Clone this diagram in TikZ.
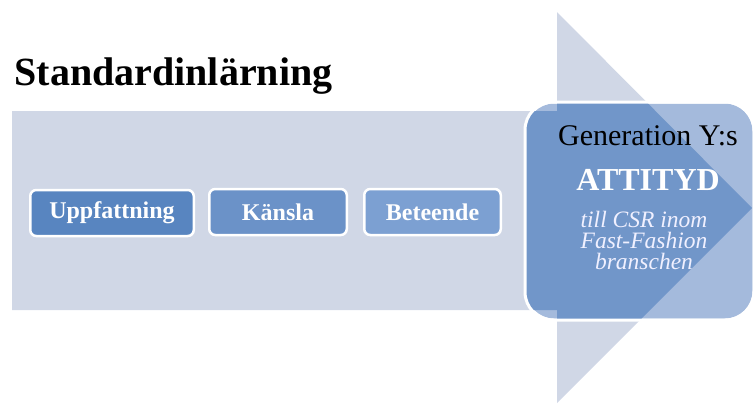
\documentclass[tikz,border=0pt]{standalone}
\usepackage{fontspec}
\setmainfont{Liberation Serif}
\definecolor{arrowgray}{RGB}{208,215,230}
\definecolor{genlight}{RGB}{164,186,220}
\definecolor{gendark}{RGB}{113,150,201}
\definecolor{uppblue}{RGB}{88,133,192}
\definecolor{kanblue}{RGB}{107,146,200}
\definecolor{betblue}{RGB}{124,160,210}
\begin{document}
\begin{tikzpicture}[x=1pt, y=-1pt,
  stepbox/.style={draw=white, line width=2.5pt, rounded corners=6pt,
    minimum width=#1, minimum height=46pt, inner sep=0pt,
    text=white, font=\fontsize{24}{28}\selectfont\bfseries},
  genbox/.style={line width=3pt, rounded corners=28pt,
    minimum width=226pt, minimum height=215pt, inner sep=0pt}]
\useasboundingbox (0,0) rectangle (756,405);
% big arrow
\fill[arrowgray] (12,111) -- (557,111) -- (557,12) -- (752,208)
  -- (557,403) -- (557,310) -- (12,310) -- cycle;
\node[anchor=base west, font=\fontsize{40}{44}\selectfont\bfseries] (title) at (11,85) {Standardinlärning};
% steps
\node[stepbox=163.5pt, fill=uppblue] (upp) at (112,213) {Uppfattning};
\node[stepbox=137.5pt, fill=kanblue] (kan) at (278,212) {Känsla};
\node[stepbox=136.5pt, fill=betblue] (bet) at (432.5,212) {Beteende};
% generation Y box
\node[genbox, fill=genlight] (gen) at (639.5,211) {};
\begin{scope}
\clip[rounded corners=28pt] (gen.north west) rectangle (gen.south east);
\fill[gendark] (12,111) -- (557,111) -- (557,12) -- (752,208)
  -- (557,403) -- (557,310) -- (12,310) -- cycle;
\end{scope}
\draw[white, line width=3pt, rounded corners=28pt] (gen.north west) rectangle (gen.south east);
\node[anchor=base, font=\fontsize{30}{34}\selectfont] (geny) at (648,145) {Generation Y:s};
\node[anchor=base, text=white, font=\fontsize{32}{36}\selectfont\bfseries] (att) at (648,190) {ATTITYD};
\node[inner sep=0pt, align=center, text=white!94!blue,
  font=\fontsize{23.5}{21}\selectfont\itshape] (csr) at (644,240)
  {till CSR inom\\Fast-Fashion\\branschen};
\end{tikzpicture}
\end{document}
